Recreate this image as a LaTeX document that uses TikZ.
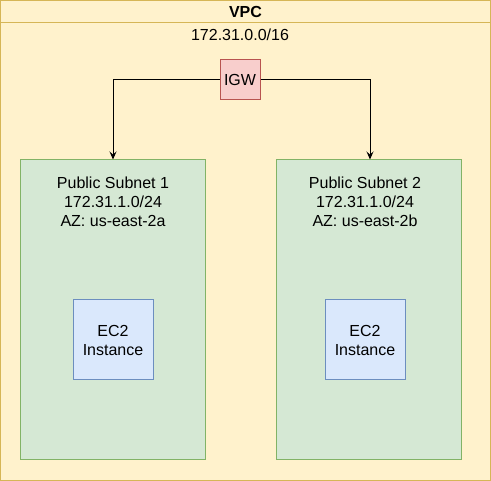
\documentclass[tikz,border=0pt]{standalone}
\usepackage{fontspec}
\setmainfont{Liberation Sans}
\usetikzlibrary{arrows.meta}
\definecolor{vpcfill}{HTML}{FFF2CC}
\definecolor{vpcline}{HTML}{D6B656}
\definecolor{subfill}{HTML}{D5E8D4}
\definecolor{subline}{HTML}{82B366}
\definecolor{ecfill}{HTML}{DAE8FC}
\definecolor{ecline}{HTML}{6C8EBF}
\definecolor{igwfill}{HTML}{F8CECC}
\definecolor{igwline}{HTML}{B85450}
\tikzset{
  box/.style={draw, line width=1pt, inner sep=0pt, align=center,
    font=\fontsize{16}{19}\selectfont},
  subnet/.style={box, fill=subfill, draw=subline, minimum width=185pt,
    minimum height=300pt},
  ectwo/.style={box, fill=ecfill, draw=ecline, minimum width=80pt,
    minimum height=80pt},
  link/.style={line width=1pt, -{Stealth[length=8pt,width=7pt,inset=3pt]}}
}
\begin{document}
\begin{tikzpicture}[x=1pt,y=-1pt]
\useasboundingbox (0,0) rectangle (491,481);
% VPC container
\node[box, fill=vpcfill, draw=vpcline, minimum width=490pt, minimum height=480pt] (vpc) at (245.5,240.5) {};
\draw[line width=1pt, vpcline] (0.5,23) -- (490.5,23);
\node[font=\fontsize{16}{19}\selectfont\bfseries] (vpctitle) at (245.5,12) {VPC};
\node[font=\fontsize{16}{19}\selectfont] (vpccidr) at (240,35) {172.31.0.0/16};

% subnets and instances
\foreach \n/\x/\c/\az in {1/112.5/113/a, 2/368.5/365/b} {
  \node[subnet] (sub\n) at (\x,310) {};
  \node[font=\fontsize{16}{19}\selectfont, align=center] (subtext\n) at (\c,202)
    {Public Subnet \n\\172.31.1.0/24\\AZ: us-east-2\az};
  \node[ectwo] (ec\n) at (\c,340) {EC2\\Instance};
}

% internet gateway
\node[box, fill=igwfill, draw=igwline, minimum width=40pt, minimum height=40pt] (igw) at (240,80) {IGW};
\draw[link] (igw.west) -| (sub1.north -| 113,0);
\draw[link] (igw.east) -| (sub2.north -| 370,0);
\end{tikzpicture}
\end{document}
